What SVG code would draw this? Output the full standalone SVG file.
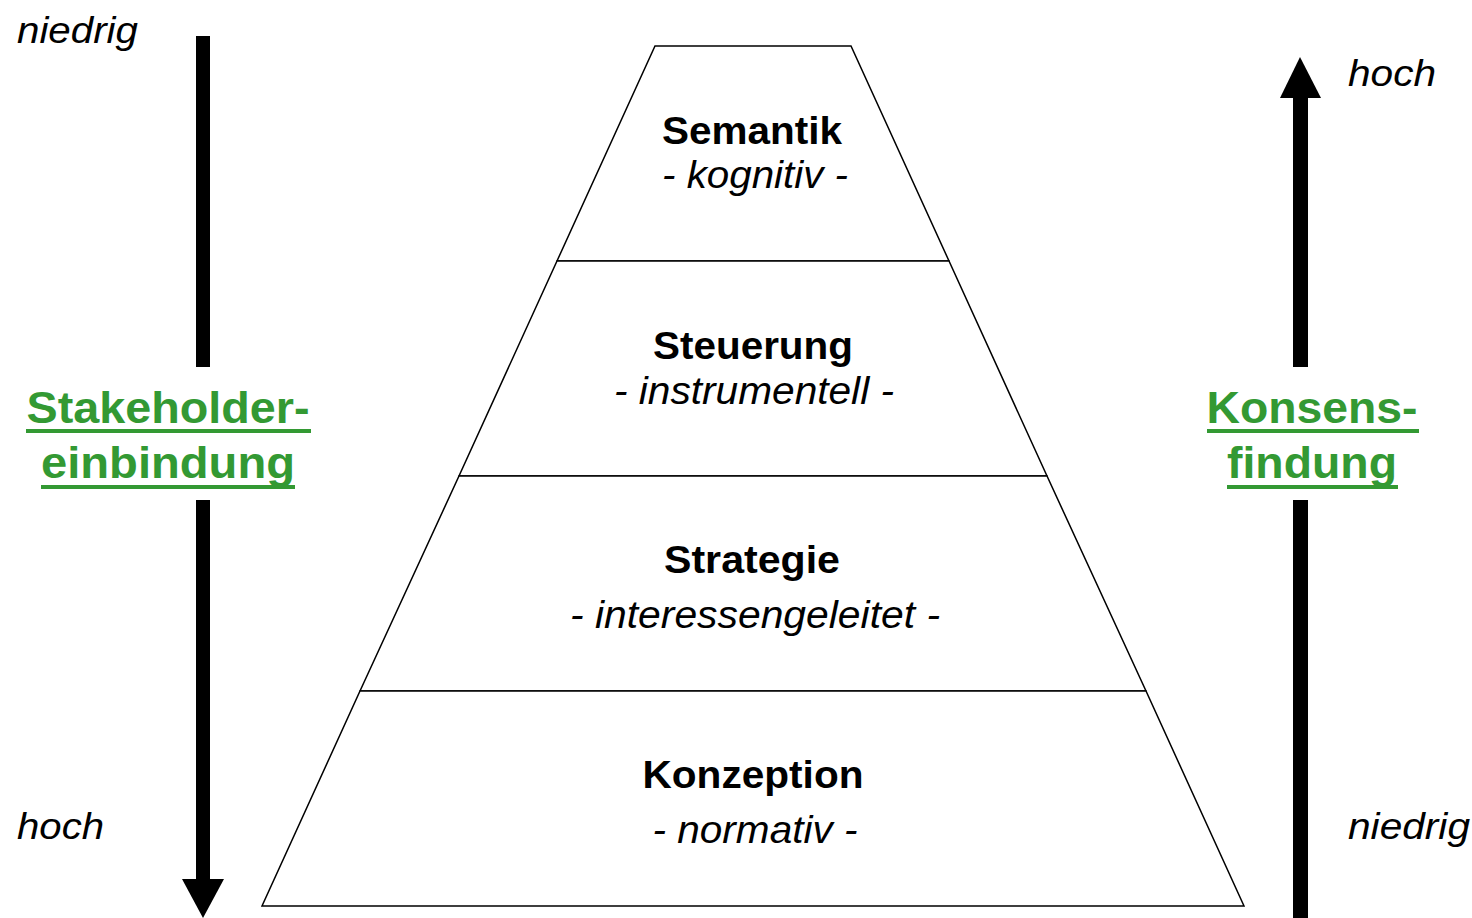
<svg xmlns="http://www.w3.org/2000/svg" width="1472" height="918" viewBox="0 0 1472 918">
  <style>
    .layer { fill: #ffffff; stroke: #000000; stroke-width: 1.5; }
    .title { font-family: "Liberation Sans", Arial, sans-serif; font-weight: bold; font-size: 39px; fill: #000000; text-anchor: middle; }
    .sub { font-family: "Liberation Sans", Arial, sans-serif; font-style: italic; font-size: 39px; fill: #000000; text-anchor: middle; }
    .side { font-family: "Liberation Sans", Arial, sans-serif; font-style: italic; font-size: 37px; fill: #000000; }
    .axis { font-family: "Liberation Sans", Arial, sans-serif; font-weight: bold; font-size: 45px; fill: #339933; text-anchor: middle; }
    .uline { fill: #339933; }
    .arrow { fill: #000000; }
  </style>

  <!-- pyramid layers, top to bottom -->
  <g id="semantik">
    <polygon class="layer" points="655,46 851,46 949,261 557,261"/>
    <text class="title" x="752" y="144" textLength="180" lengthAdjust="spacingAndGlyphs">Semantik</text>
    <text class="sub" x="755" y="188" textLength="186" lengthAdjust="spacingAndGlyphs">- kognitiv -</text>
  </g>
  <g id="steuerung">
    <polygon class="layer" points="557,261 949,261 1047,476 459,476"/>
    <text class="title" x="753" y="359" textLength="200" lengthAdjust="spacingAndGlyphs">Steuerung</text>
    <text class="sub" x="754" y="404" textLength="280" lengthAdjust="spacingAndGlyphs">- instrumentell -</text>
  </g>
  <g id="strategie">
    <polygon class="layer" points="459,476 1047,476 1146,691 360,691"/>
    <text class="title" x="752" y="573" textLength="176" lengthAdjust="spacingAndGlyphs">Strategie</text>
    <text class="sub" x="755" y="628" textLength="370" lengthAdjust="spacingAndGlyphs">- interessengeleitet -</text>
  </g>
  <g id="konzeption">
    <polygon class="layer" points="360,691 1146,691 1244,906 262,906"/>
    <text class="title" x="753" y="788" textLength="221" lengthAdjust="spacingAndGlyphs">Konzeption</text>
    <text class="sub" x="755" y="843" textLength="205" lengthAdjust="spacingAndGlyphs">- normativ -</text>
  </g>

  <!-- scale labels -->
  <g id="stakeholder-scale">
    <text class="side" x="17" y="43" textLength="121" lengthAdjust="spacingAndGlyphs">niedrig</text>
    <text class="side" x="17" y="839" textLength="87" lengthAdjust="spacingAndGlyphs">hoch</text>
  </g>
  <g id="konsens-scale">
    <text class="side" x="1348" y="86" textLength="88" lengthAdjust="spacingAndGlyphs">hoch</text>
    <text class="side" x="1348" y="839" textLength="122" lengthAdjust="spacingAndGlyphs">niedrig</text>
  </g>

  <!-- axis titles -->
  <g id="stakeholdereinbindung">
    <text class="axis" x="168" y="423" textLength="283" lengthAdjust="spacingAndGlyphs">Stakeholder-</text>
    <rect class="uline" x="26" y="429" width="285" height="4"/>
    <text class="axis" x="168" y="478" textLength="254" lengthAdjust="spacingAndGlyphs">einbindung</text>
    <rect class="uline" x="41" y="485" width="254" height="4"/>
  </g>
  <g id="konsensfindung">
    <text class="axis" x="1312" y="423" textLength="211" lengthAdjust="spacingAndGlyphs">Konsens-</text>
    <rect class="uline" x="1207" y="429" width="212" height="4"/>
    <text class="axis" x="1312" y="478" textLength="170" lengthAdjust="spacingAndGlyphs">findung</text>
    <rect class="uline" x="1227" y="485" width="171" height="4"/>
  </g>

  <!-- connectors: the two scale arrows -->
  <g id="connectors">
    <rect class="arrow" x="196" y="36" width="14" height="331"/>
    <rect class="arrow" x="196" y="500" width="14" height="380"/>
    <polygon class="arrow" points="182,879 224,879 203,918"/>
    <polygon class="arrow" points="1300,57 1321,98 1280,98"/>
    <rect class="arrow" x="1293" y="97" width="15" height="270"/>
    <rect class="arrow" x="1293" y="500" width="15" height="418"/>
  </g>
</svg>
